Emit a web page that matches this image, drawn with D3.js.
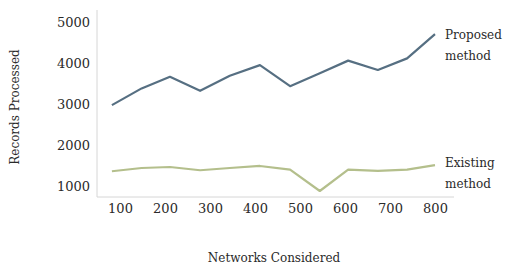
<!DOCTYPE html>
<html>
<head>
<meta charset="utf-8">
<script src="https://cdn.jsdelivr.net/npm/d3@7/dist/d3.min.js"></script>
<style>
  body { margin: 0; background: #fff; }
  svg text { font-family: "DejaVu Serif", "Liberation Serif", serif; fill: #2a2a2a; }
</style>
</head>
<body>
<div id="chart"></div>
<script>
// chart size
var width = 509;
var height = 267;

// data
var networks = [82, 148, 211, 278, 344, 411, 478, 544, 607, 673, 738, 800];
var proposed = [2980, 3390, 3675, 3330, 3700, 3960, 3445, 3760, 4070, 3840, 4125, 4720];
var existing = [1360, 1440, 1465, 1385, 1440, 1490, 1400, 877, 1400, 1370, 1400, 1510];
var xTicks = [100, 200, 300, 400, 500, 600, 700, 800];
var yTicks = [1000, 2000, 3000, 4000, 5000];

var x = d3.scaleLinear().domain([100, 800]).range([120, 435]);
var y = d3.scaleLinear().domain([730, 5310]).range([197, 10]);

var svg = d3.select("#chart")
            .append("svg")
            .attr("width", width)
            .attr("height", height);

// axis lines
svg.append("line")
   .attr("x1", 97).attr("x2", 97)
   .attr("y1", y(5310)).attr("y2", y(730))
   .style("stroke", "#d6d6d6").style("stroke-width", 1);
svg.append("line")
   .attr("x1", 97).attr("x2", 454)
   .attr("y1", y(730)).attr("y2", y(730))
   .style("stroke", "#d6d6d6").style("stroke-width", 1);

// tick labels
var xAxis = d3.axisBottom(x).tickValues(xTicks).tickFormat(d3.format("d")).tickSize(0).tickPadding(7);
svg.append("g")
   .attr("transform", "translate(0," + y(730) + ")")
   .call(xAxis)
   .call(function(g) { g.select(".domain").remove(); })
   .selectAll("text")
   .style("font-size", "13px")
   .style("font-family", "DejaVu Serif");

var yAxis = d3.axisLeft(y).tickValues(yTicks).tickFormat(d3.format("d")).tickSize(0).tickPadding(7);
svg.append("g")
   .attr("transform", "translate(97,0)")
   .call(yAxis)
   .call(function(g) { g.select(".domain").remove(); })
   .selectAll("text")
   .style("font-size", "13px")
   .style("font-family", "DejaVu Serif");

// lines
var line = d3.line()
    .x(function(d, i) { return x(networks[i]); })
    .y(function(d) { return y(d); });

svg.append("path")
   .datum(proposed)
   .attr("d", line)
   .style("fill", "none")
   .style("stroke", "#566f82")
   .style("stroke-width", 2.2)
   .style("stroke-linejoin", "round");

svg.append("path")
   .datum(existing)
   .attr("d", line)
   .style("fill", "none")
   .style("stroke", "#b4bf8c")
   .style("stroke-width", 2.2)
   .style("stroke-linejoin", "round");

// series labels
function label(lines, yy) {
  var t = svg.append("text")
     .attr("x", 445)
     .attr("y", yy)
     .style("font-size", "12px");
  lines.forEach(function(s, i) {
    t.append("tspan").attr("x", 445).attr("dy", i == 0 ? 0 : 21).text(s);
  });
}
label(["Proposed", "method"], 39);
label(["Existing", "method"], 167);

// axis titles
svg.append("text")
   .attr("x", 274)
   .attr("y", 262)
   .attr("text-anchor", "middle")
   .style("font-size", "12px")
   .text("Networks Considered");

svg.append("text")
   .attr("transform", "translate(19,107) rotate(-90)")
   .attr("text-anchor", "middle")
   .style("font-size", "12px")
   .text("Records Processed");
</script>
</body>
</html>
